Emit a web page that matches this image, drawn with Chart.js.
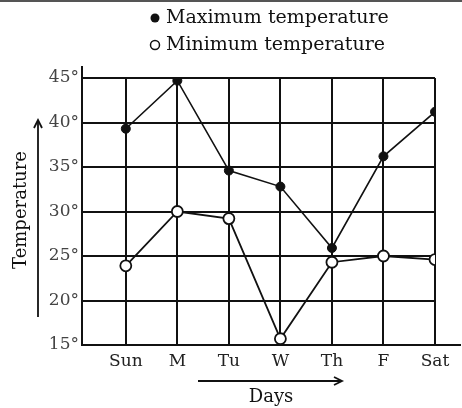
<!DOCTYPE html>
<html>
<head>
<meta charset="utf-8">
<script src="https://cdn.jsdelivr.net/npm/chart.js@4/dist/chart.umd.min.js"></script>
<style>
  html, body { margin: 0; padding: 0; background: #fff; }
  #wrap { width: 462px; height: 408px; position: relative; }
</style>
</head>
<body>
<div id="wrap"><canvas id="tempChart"></canvas></div>
<script>
// data
var days = ['Sun', 'M', 'Tu', 'W', 'Th', 'F', 'Sat'];
var maxTemp = [39.3, 44.7, 34.6, 32.8, 25.9, 36.2, 41.2];
var minTemp = [23.9, 30, 29.2, 15.7, 24.3, 25, 24.6];
var yTicks = [15, 20, 25, 30, 35, 40, 45];

var serif = '"DejaVu Serif", "Liberation Serif", serif';

function toPoints(vals) {
    return vals.map(function(v, i) { return { x: i, y: v }; });
}

function arrowHead(ctx, x, y, dir) {
    ctx.beginPath();
    if (dir === 'up') {
        ctx.moveTo(x - 4, y + 8); ctx.lineTo(x, y); ctx.lineTo(x + 4, y + 8);
    } else {
        ctx.moveTo(x - 8, y - 4); ctx.lineTo(x, y); ctx.lineTo(x - 8, y + 4);
    }
    ctx.stroke();
}

// legend, axis titles and arrows like the scanned figure
var decorations = {
    id: 'decorations',
    beforeDraw: function(chart) {
        var ctx = chart.ctx;
        ctx.save();
        ctx.fillStyle = '#fff';
        ctx.fillRect(0, 0, chart.width, chart.height);
        ctx.fillStyle = '#555';
        ctx.fillRect(0, 0, chart.width, 2);
        ctx.restore();
    },
    afterDraw: function(chart) {
        var ctx = chart.ctx;
        var area = chart.chartArea;
        ctx.save();
        ctx.strokeStyle = '#111';
        ctx.fillStyle = '#111';

        // axis lines running past the grid
        ctx.lineWidth = 2;
        ctx.beginPath();
        ctx.moveTo(area.left, area.bottom);
        ctx.lineTo(area.left, 66);
        ctx.moveTo(area.left, area.bottom);
        ctx.lineTo(461, area.bottom);
        ctx.stroke();

        // legend
        ctx.font = '19px ' + serif;
        ctx.textBaseline = 'middle';
        ctx.textAlign = 'left';
        ctx.beginPath();
        ctx.arc(155, 18, 4.5, 0, Math.PI * 2);
        ctx.fill();
        ctx.fillText('Maximum temperature', 166, 18);
        ctx.lineWidth = 1.5;
        ctx.beginPath();
        ctx.arc(155, 45, 4.5, 0, Math.PI * 2);
        ctx.stroke();
        ctx.fillText('Minimum temperature', 166, 45);

        // y title with arrow
        ctx.save();
        ctx.translate(21, 210);
        ctx.rotate(-Math.PI / 2);
        ctx.textAlign = 'center';
        ctx.font = '18px ' + serif;
        ctx.fillText('Temperature', 0, 0);
        ctx.restore();
        ctx.lineWidth = 1.8;
        ctx.beginPath();
        ctx.moveTo(38, 317);
        ctx.lineTo(38, 121);
        ctx.stroke();
        arrowHead(ctx, 38, 120, 'up');

        // x title with arrow
        ctx.beginPath();
        ctx.moveTo(198, 381);
        ctx.lineTo(341, 381);
        ctx.stroke();
        arrowHead(ctx, 342, 381, 'right');
        ctx.textAlign = 'center';
        ctx.font = '18px ' + serif;
        ctx.fillText('Days', 271, 397);

        ctx.restore();
    }
};

var ctx = document.getElementById('tempChart').getContext('2d');
var chart = new Chart(ctx, {
    type: 'line',
    data: {
        datasets: [{
            label: 'Maximum temperature',
            data: toPoints(maxTemp),
            borderColor: '#111',
            borderWidth: 1.6,
            pointRadius: 4.5,
            pointBackgroundColor: '#111',
            pointBorderColor: '#111',
            pointBorderWidth: 1
        }, {
            label: 'Minimum temperature',
            data: toPoints(minTemp),
            borderColor: '#111',
            borderWidth: 1.8,
            pointRadius: 5.5,
            pointBackgroundColor: '#fff',
            pointBorderColor: '#111',
            pointBorderWidth: 1.8
        }]
    },
    options: {
        responsive: true,
        maintainAspectRatio: false,
        animation: false,
        layout: { padding: { left: 0, top: 78, right: 27, bottom: 0 } },
        plugins: {
            legend: { display: false },
            tooltip: { enabled: false }
        },
        scales: {
            x: {
                type: 'linear',
                min: -0.85,
                max: 6,
                afterBuildTicks: function(axis) {
                    axis.ticks = days.map(function(d, i) { return { value: i }; });
                },
                afterFit: function(axis) { axis.height = 63; },
                grid: { color: '#111', lineWidth: 2, drawTicks: false },
                border: { color: '#111', width: 2 },
                ticks: {
                    padding: 6,
                    color: '#222',
                    font: { family: serif, size: 17 },
                    callback: function(v) { return days[v]; }
                }
            },
            y: {
                min: 15,
                max: 45,
                afterBuildTicks: function(axis) {
                    axis.ticks = yTicks.map(function(v) { return { value: v }; });
                },
                afterFit: function(axis) { axis.width = 82; },
                grid: { color: '#111', lineWidth: 2, drawTicks: false },
                border: { color: '#111', width: 2 },
                ticks: {
                    padding: 3,
                    color: '#444',
                    font: { family: serif, size: 17 },
                    callback: function(v) { return v + '°'; }
                }
            }
        }
    },
    plugins: [decorations]
});
</script>
</body>
</html>
